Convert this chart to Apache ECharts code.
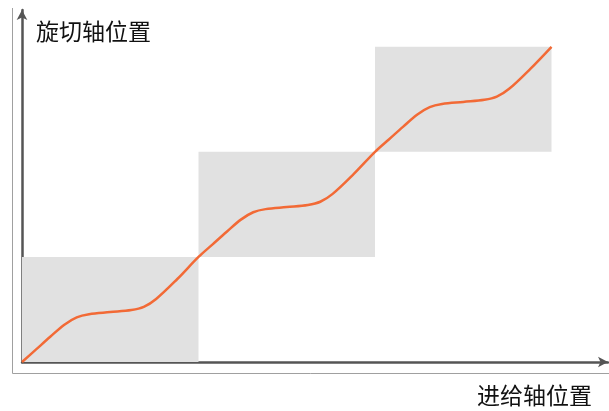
<!DOCTYPE html>
<html>
<head>
<meta charset="utf-8">
<script src="https://cdn.jsdelivr.net/npm/echarts@6/dist/echarts.min.js"></script>
<style>
	html, body { margin: 0; padding: 0; background: #fff; }
	#main { width: 609px; height: 411px; }
</style>
</head>
<body>
<div id="main"></div>
<script>
// 进给轴 / 旋切轴 位置曲线（单位：一个步距）
var curvePoints = [
	[0, 0], [0.08, 0.12], [0.16, 0.24], [0.24, 0.355], [0.31, 0.425], [0.38, 0.455],
	[0.5, 0.475], [0.62, 0.495], [0.69, 0.525], [0.76, 0.6], [0.88, 0.79],
	[1, 1], [1.08, 1.12], [1.16, 1.24], [1.24, 1.355], [1.31, 1.425], [1.38, 1.455],
	[1.5, 1.475], [1.62, 1.495], [1.69, 1.525], [1.76, 1.6], [1.88, 1.79],
	[2, 2], [2.08, 2.12], [2.16, 2.24], [2.24, 2.355], [2.31, 2.425], [2.38, 2.455],
	[2.5, 2.475], [2.62, 2.495], [2.69, 2.525], [2.76, 2.6], [2.88, 2.79],
	[3, 3]
];
// 灰色区域 [x0, y0, x1, y1]
var zones = [
	[0, 0, 1, 1],
	[1, 1, 2, 2],
	[2, 2, 3, 3]
];
var xName = '进给轴位置';
var yName = '旋切轴位置';

var chart = echarts.init(document.getElementById('main'), null, { renderer: 'canvas' });

var option = {
	animation: false,
	title: [
		{
			text: yName,
			left: 31,
			top: 15,
			textStyle: { fontSize: 23, fontWeight: 'normal', color: '#111', fontFamily: 'Noto Sans CJK SC' }
		},
		{
			text: xName,
			left: 472,
			top: 379,
			textStyle: { fontSize: 23, fontWeight: 'normal', color: '#111', fontFamily: 'Noto Sans CJK SC' }
		}
	],
	grid: { left: 22, right: 1, top: 10, bottom: 49 },
	xAxis: {
		type: 'value',
		min: 0,
		max: 3.32,
		axisLine: {
			show: true,
			lineStyle: { color: '#555', width: 2.5 },
			symbol: ['none', 'arrow'],
			symbolSize: [8, 10]
		},
		axisTick: { show: false },
		axisLabel: { show: false },
		splitLine: { show: false }
	},
	yAxis: {
		type: 'value',
		min: 0,
		max: 3.35,
		axisLine: {
			show: true,
			lineStyle: { color: '#555', width: 2.5 },
			symbol: ['none', 'arrow'],
			symbolSize: [8, 10]
		},
		axisTick: { show: false },
		axisLabel: { show: false },
		splitLine: { show: false }
	},
	graphic: [
		{
			type: 'polyline',
			shape: { points: [[12.5, 8], [12.5, 373.5], [609, 373.5]] },
			style: { stroke: '#a0a0a0', lineWidth: 1, fill: null },
			silent: true
		}
	],
	series: [
		{
			type: 'line',
			data: curvePoints,
			smooth: 0.35,
			showSymbol: false,
			lineStyle: { color: '#f26a36', width: 2.5 },
			z: 3,
			markArea: {
				silent: true,
				itemStyle: { color: '#e1e1e1' },
				data: zones.map(function (r) {
					return [{ coord: [r[0], r[1]] }, { coord: [r[2], r[3]] }];
				})
			}
		}
	]
};

chart.setOption(option);
</script>
</body>
</html>
